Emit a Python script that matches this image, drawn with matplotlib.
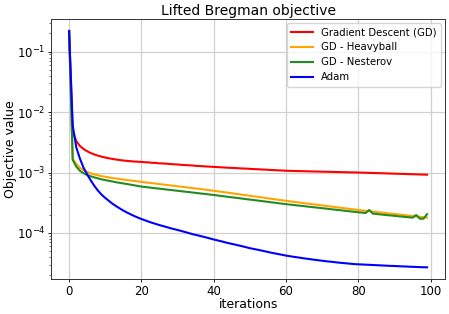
import numpy as np
import matplotlib
matplotlib.use("Agg")
import matplotlib.pyplot as plt

# objective values per iteration, in units of 1e-3
gd = [220, 4.8, 3.3, 2.75, 2.45, 2.25, 2.1, 1.99, 1.9, 1.83,
      1.77, 1.72, 1.68, 1.64, 1.61, 1.58, 1.56, 1.54, 1.52, 1.51,
      1.50, 1.48, 1.47, 1.45, 1.44, 1.42, 1.41, 1.40, 1.38, 1.37,
      1.36, 1.34, 1.33, 1.32, 1.31, 1.29, 1.28, 1.27, 1.26, 1.25,
      1.24, 1.23, 1.22, 1.21, 1.20, 1.195, 1.185, 1.175, 1.165, 1.16,
      1.15, 1.14, 1.135, 1.125, 1.12, 1.11, 1.10, 1.095, 1.085, 1.08,
      1.07, 1.066, 1.062, 1.058, 1.055, 1.051, 1.047, 1.044, 1.040, 1.037,
      1.033, 1.030, 1.027, 1.023, 1.020, 1.017, 1.013, 1.010, 1.007, 1.004,
      1.000, 0.996, 0.992, 0.988, 0.983, 0.979, 0.975, 0.971, 0.966, 0.962,
      0.958, 0.954, 0.950, 0.945, 0.941, 0.937, 0.933, 0.929, 0.925, 0.921]

heavyball = [220, 1.70, 1.38, 1.20, 1.09, 1.02, 0.97, 0.93, 0.90, 0.87,
             0.85, 0.83, 0.81, 0.795, 0.78, 0.765, 0.75, 0.74, 0.725, 0.713,
             0.70, 0.688, 0.677, 0.666, 0.655, 0.644, 0.633, 0.623, 0.612, 0.602,
             0.592, 0.582, 0.573, 0.563, 0.554, 0.545, 0.536, 0.527, 0.518, 0.509,
             0.500, 0.490, 0.481, 0.472, 0.463, 0.454, 0.445, 0.437, 0.428, 0.420,
             0.412, 0.404, 0.397, 0.389, 0.382, 0.374, 0.367, 0.360, 0.353, 0.347,
             0.340, 0.334, 0.328, 0.323, 0.317, 0.312, 0.306, 0.301, 0.296, 0.291,
             0.286, 0.281, 0.276, 0.271, 0.266, 0.262, 0.257, 0.253, 0.248, 0.244,
             0.240, 0.236, 0.233, 0.229, 0.226, 0.222, 0.219, 0.216, 0.212, 0.209,
             0.206, 0.203, 0.200, 0.197, 0.194, 0.191, 0.188, 0.185, 0.182, 0.180]

nesterov = [220, 1.62, 1.25, 1.07, 0.97, 0.91, 0.865, 0.83, 0.80, 0.77,
            0.75, 0.73, 0.71, 0.69, 0.675, 0.66, 0.645, 0.63, 0.615, 0.60,
            0.585, 0.576, 0.567, 0.558, 0.549, 0.540, 0.532, 0.523, 0.515, 0.507,
            0.499, 0.491, 0.483, 0.476, 0.468, 0.461, 0.453, 0.446, 0.439, 0.432,
            0.425, 0.418, 0.410, 0.403, 0.396, 0.389, 0.383, 0.376, 0.370, 0.363,
            0.357, 0.351, 0.345, 0.339, 0.333, 0.327, 0.321, 0.316, 0.310, 0.305,
            0.300, 0.295, 0.291, 0.286, 0.282, 0.278, 0.273, 0.269, 0.265, 0.261,
            0.257, 0.253, 0.249, 0.245, 0.241, 0.238, 0.234, 0.230, 0.227, 0.223,
            0.220, 0.217, 0.214, 0.240, 0.209, 0.206, 0.203, 0.200, 0.197, 0.195,
            0.192, 0.189, 0.187, 0.184, 0.182, 0.179, 0.198, 0.172, 0.172, 0.205]

adam = [220, 6.0, 2.6, 1.7, 1.2, 0.93, 0.74, 0.60, 0.50, 0.43,
        0.38, 0.34, 0.305, 0.278, 0.255, 0.235, 0.218, 0.204, 0.191, 0.180,
        0.170, 0.162, 0.154, 0.147, 0.141, 0.135, 0.130, 0.125, 0.120, 0.116,
        0.112, 0.108, 0.104, 0.100, 0.096, 0.093, 0.090, 0.087, 0.084, 0.081,
        0.078, 0.0755, 0.073, 0.0705, 0.068, 0.066, 0.064, 0.062, 0.060, 0.058,
        0.056, 0.0545, 0.053, 0.0515, 0.050, 0.0485, 0.047, 0.0458, 0.0446, 0.0434,
        0.0422, 0.0413, 0.0404, 0.0396, 0.0388, 0.038, 0.0373, 0.0366, 0.0359, 0.0353,
        0.0347, 0.0341, 0.0336, 0.0331, 0.0326, 0.0321, 0.0317, 0.0313, 0.0309, 0.0305,
        0.0303, 0.0301, 0.0299, 0.0297, 0.0295, 0.0293, 0.0291, 0.0289, 0.0287, 0.0285,
        0.0284, 0.0282, 0.0280, 0.0279, 0.0277, 0.0275, 0.0274, 0.0272, 0.0271, 0.0270]

series = [
    ("Gradient Descent (GD)", gd, "red"),
    ("GD - Heavyball", heavyball, "orange"),
    ("GD - Nesterov", nesterov, "forestgreen"),
    ("Adam", adam, "blue"),
]

fig = plt.figure(figsize=(4.49, 3.14), dpi=100)
ax = fig.add_axes([0.114, 0.111, 0.877, 0.828])

for label, vals, color in series:
    vals = np.array(vals) * 1e-3
    ax.plot(np.arange(len(vals)), vals, color=color, lw=1.5, label=label)

ax.set_yscale("log")
ax.grid(True, color="#d0d0d0", lw=0.9)
ax.set_title("Lifted Bregman objective", fontsize=10, pad=3)
ax.set_xlabel("iterations", fontsize=9, labelpad=0)
ax.set_ylabel("Objective value", fontsize=9, labelpad=0)
ax.tick_params(which="major", labelsize=8.5, length=2.5, width=0.6, pad=1.5)
ax.tick_params(which="minor", length=1.5, width=0.4)
ax.set_xticks([0, 20, 40, 60, 80, 100])
for s in ax.spines.values():
    s.set_linewidth(0.7)
    s.set_color("#333333")
ax.legend(loc="upper right", fontsize=7.3, handlelength=2.2, borderaxespad=0.4)

fig.savefig("out.png", dpi=100)
